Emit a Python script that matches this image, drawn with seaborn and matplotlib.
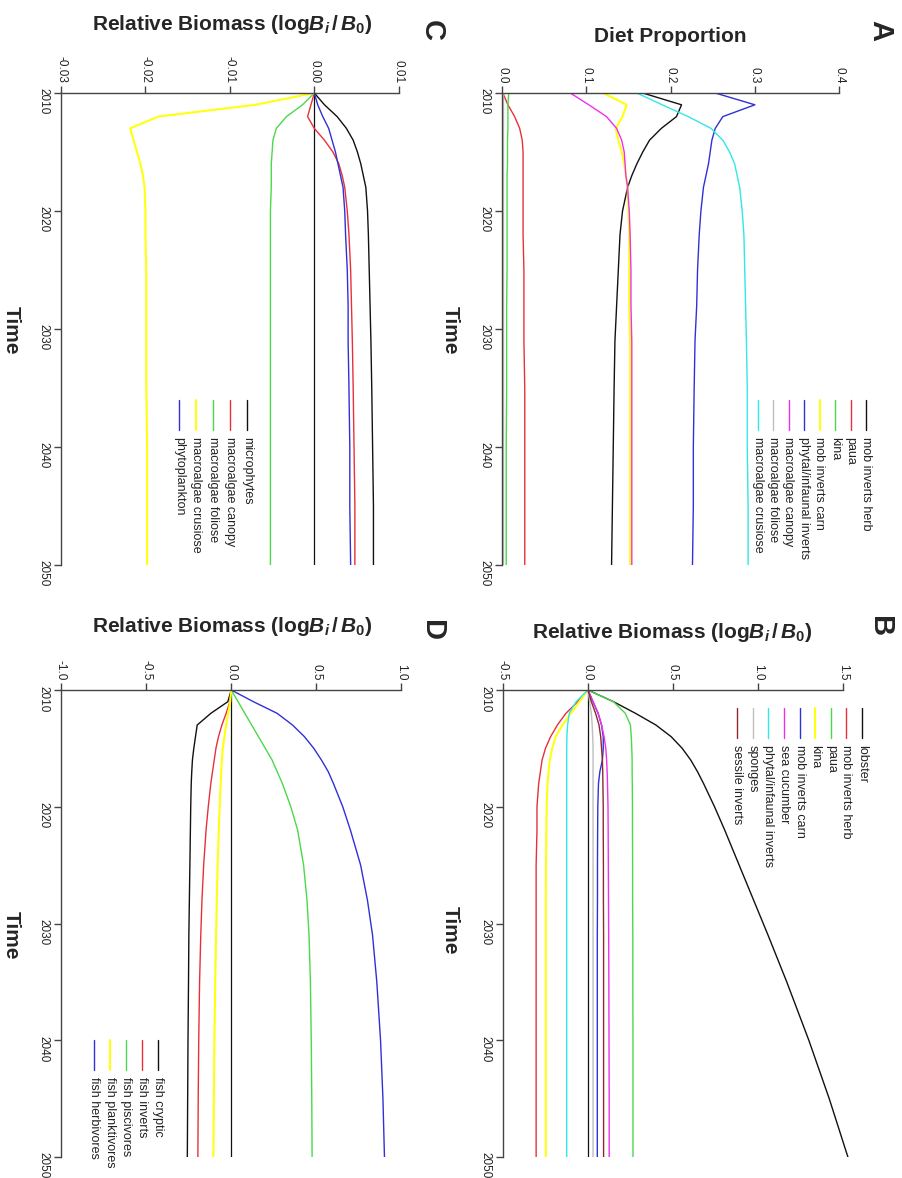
import numpy as np
import pandas as pd
import matplotlib
matplotlib.use("Agg")
import matplotlib.pyplot as plt
import seaborn as sns
from matplotlib.lines import Line2D

# ---------------- data ----------------
YEARS = [2010, 2011, 2012, 2013, 2014, 2015, 2016, 2017, 2018, 2020,
         2022, 2025, 2028, 2031, 2035, 2040, 2045, 2050]

# Panel A: diet proportion
A_names = ["mob inverts herb", "paua", "kina", "mob inverts carn",
           "phytal/infaunal inverts", "macroalgae canopy", "macroalgae foliose",
           "macroalgae crusiose"]
A_mob_herb = [0.167, 0.213, 0.207, 0.189, 0.175, 0.167, 0.160, 0.154, 0.149, 0.143,
              0.140, 0.138, 0.136, 0.134, 0.133, 0.132, 0.131, 0.130]
A_paua = [0.001, 0.007, 0.015, 0.021, 0.024, 0.025, 0.025, 0.025, 0.025, 0.025,
          0.025, 0.026, 0.026, 0.026, 0.027, 0.027, 0.027, 0.027]
A_kina = [0.008, 0.007, 0.007, 0.007, 0.0065, 0.0065, 0.0065, 0.006, 0.006, 0.006,
          0.006, 0.006, 0.0055, 0.0055, 0.0055, 0.005, 0.005, 0.005]
A_mob_carn = [0.120, 0.148, 0.143, 0.135, 0.138, 0.142, 0.145, 0.147, 0.149, 0.150,
              0.151, 0.151, 0.151, 0.152, 0.152, 0.152, 0.152, 0.152]
A_phytal = [0.253, 0.300, 0.262, 0.253, 0.249, 0.247, 0.245, 0.242, 0.239, 0.236,
            0.234, 0.232, 0.231, 0.229, 0.228, 0.227, 0.227, 0.226]
A_canopy = [0.081, 0.103, 0.124, 0.136, 0.142, 0.145, 0.146, 0.147, 0.149, 0.151,
            0.152, 0.153, 0.153, 0.154, 0.154, 0.154, 0.154, 0.154]
A_foliose = [0.001, 0.001, 0.001, 0.001, 0.001, 0.001, 0.001, 0.001, 0.001, 0.001,
             0.001, 0.001, 0.001, 0.001, 0.001, 0.001, 0.001, 0.001]
A_crusiose = [0.160, 0.190, 0.221, 0.248, 0.262, 0.270, 0.276, 0.279, 0.282, 0.285,
              0.287, 0.288, 0.289, 0.290, 0.291, 0.291, 0.292, 0.292]

# Panel B: relative biomass (invertebrates)
B_names = ["lobster", "mob inverts herb", "paua", "kina", "mob inverts carn",
           "sea cucumber", "phytal/infaunal inverts", "sponges", "sessile inverts"]
B_lobster = [0, 0.15, 0.28, 0.40, 0.49, 0.555, 0.605, 0.645, 0.68, 0.745,
             0.805, 0.89, 0.975, 1.06, 1.17, 1.30, 1.42, 1.53]
B_mob_herb = [0, -0.06, -0.13, -0.18, -0.22, -0.25, -0.27, -0.28, -0.29, -0.30,
              -0.30, -0.305, -0.305, -0.305, -0.305, -0.305, -0.305, -0.305]
B_paua = [0, 0.15, 0.22, 0.25, 0.255, 0.258, 0.26, 0.26, 0.261, 0.262,
          0.262, 0.263, 0.263, 0.264, 0.264, 0.265, 0.265, 0.265]
B_kina = [0, -0.05, -0.10, -0.15, -0.19, -0.21, -0.225, -0.232, -0.238, -0.243,
          -0.245, -0.247, -0.248, -0.248, -0.248, -0.248, -0.248, -0.248]
B_mob_carn = [0, 0.03, 0.06, 0.08, 0.09, 0.09, 0.085, 0.07, 0.062, 0.058,
              0.057, 0.056, 0.056, 0.055, 0.055, 0.055, 0.055, 0.055]
B_sea_cuc = [0, 0.03, 0.06, 0.08, 0.095, 0.105, 0.11, 0.113, 0.115, 0.118,
             0.119, 0.12, 0.121, 0.122, 0.123, 0.124, 0.125, 0.125]
B_phytal = [0, -0.07, -0.11, -0.12, -0.124, -0.125, -0.125, -0.125, -0.125, -0.125,
            -0.125, -0.125, -0.125, -0.125, -0.125, -0.125, -0.125, -0.125]
B_sponges = [0, 0.01, 0.02, 0.025, 0.028, 0.03, 0.03, 0.03, 0.03, 0.03,
             0.03, 0.03, 0.03, 0.03, 0.03, 0.03, 0.03, 0.03]
B_sessile = [0, 0.02, 0.045, 0.065, 0.075, 0.08, 0.085, 0.087, 0.088, 0.09,
             0.09, 0.091, 0.091, 0.092, 0.092, 0.092, 0.092, 0.092]

# Panel C: relative biomass (primary producers)
C_names = ["microphytes", "macroalgae canopy", "macroalgae foliose",
           "macroalgae crusiose", "phytoplankton"]
C_micro = [0, 0.0012, 0.0027, 0.0038, 0.0046, 0.0051, 0.0055, 0.0058, 0.0061, 0.0063,
           0.0064, 0.0065, 0.0066, 0.0067, 0.0068, 0.0069, 0.0070, 0.0070]
C_canopy = [0, -0.0004, -0.0008, 0.0000, 0.0012, 0.0022, 0.0029, 0.0033, 0.0036, 0.0039,
            0.0041, 0.0043, 0.0044, 0.0045, 0.0046, 0.0047, 0.0048, 0.0048]
C_foliose = [0, -0.0014, -0.0033, -0.0045, -0.0049, -0.0050, -0.0051, -0.0051, -0.0051,
             -0.0052, -0.0052, -0.0052, -0.0052, -0.0052, -0.0052, -0.0052, -0.0052, -0.0052]
C_crusiose = [0, -0.007, -0.0185, -0.0218, -0.0214, -0.0210, -0.0206, -0.0203, -0.0201,
              -0.0200, -0.0200, -0.0199, -0.0199, -0.0199, -0.0199, -0.0198, -0.0198, -0.0198]
C_phyto = [0, 0.0004, 0.0010, 0.0017, 0.0021, 0.0025, 0.0028, 0.0031, 0.0034, 0.0036,
           0.0037, 0.0039, 0.0040, 0.0040, 0.0041, 0.0042, 0.0042, 0.0043]

# Panel D: relative biomass (fish)
D_names = ["fish cryptic", "fish inverts", "fish piscivores", "fish planktivores",
           "fish herbivores"]
D_cryptic = [0, -0.02, -0.12, -0.20, -0.21, -0.22, -0.228, -0.232, -0.235, -0.238,
             -0.240, -0.243, -0.246, -0.249, -0.251, -0.254, -0.256, -0.258]
D_inverts = [0, -0.008, -0.03, -0.055, -0.075, -0.09, -0.10, -0.11, -0.12, -0.135,
             -0.148, -0.162, -0.172, -0.179, -0.186, -0.191, -0.194, -0.196]
D_pisc = [0, 0.04, 0.08, 0.12, 0.16, 0.20, 0.24, 0.27, 0.30, 0.35,
          0.39, 0.425, 0.445, 0.457, 0.465, 0.470, 0.473, 0.475]
D_plank = [0, -0.006, -0.018, -0.03, -0.04, -0.05, -0.055, -0.059, -0.062, -0.068,
           -0.073, -0.08, -0.085, -0.089, -0.094, -0.099, -0.102, -0.105]
D_herb = [0, 0.13, 0.27, 0.36, 0.43, 0.485, 0.53, 0.57, 0.60, 0.655,
          0.70, 0.76, 0.80, 0.83, 0.855, 0.877, 0.891, 0.90]

TIME_TICKS = [2010, 2020, 2030, 2040, 2050]
A_ticks = [0.0, 0.1, 0.2, 0.3, 0.4]
A_ticklabels = ["0.0", "0.1", "0.2", "0.3", "0.4"]
B_ticks = [-0.5, 0.0, 0.5, 1.0, 1.5]
B_ticklabels = ["-0.5", "0.0", "0.5", "1.0", "1.5"]
C_ticks = [-0.03, -0.02, -0.01, 0.0, 0.01]
C_ticklabels = ["-0.03", "-0.02", "-0.01", "0.00", "0.01"]
D_ticks = [-1.0, -0.5, 0.0, 0.5, 1.0]
D_ticklabels = ["-1.0", "-0.5", "0.0", "0.5", "1.0"]

# ---------------- style ----------------
BLACK = "#111111"
RED = "#E8303A"
GREEN = "#4CD84C"
YELLOW = "#FFFF10"
BLUE = "#3030D8"
MAGENTA = "#EE30EE"
CYAN = "#30E8E8"
GRAY = "#BEBEBE"
BROWN = "#8B2A2A"

A_colors = [BLACK, RED, GREEN, YELLOW, BLUE, MAGENTA, GRAY, CYAN]
B_colors = [BLACK, RED, GREEN, YELLOW, BLUE, MAGENTA, CYAN, GRAY, BROWN]
C_colors = [BLACK, RED, GREEN, YELLOW, BLUE]
D_colors = [BLACK, RED, GREEN, YELLOW, BLUE]

sns.set_style("ticks")
plt.rcParams['font.family'] = ['Liberation Sans', 'DejaVu Sans']
plt.rcParams['mathtext.fontset'] = 'custom'
plt.rcParams['mathtext.rm'] = 'Liberation Sans:bold'
plt.rcParams['mathtext.it'] = 'Liberation Sans:bold:italic'
plt.rcParams['mathtext.bf'] = 'Liberation Sans:bold'

W, H = 902, 1178
fig = plt.figure(figsize=(W / 100, H / 100), dpi=100)
AX_COLOR = "#444444"


def fx(px):
    return px / W


def fy(py):
    return 1 - py / H


def make_axes(left, right, top, bottom):
    return fig.add_axes([fx(left), fy(bottom), (right - left) / W, (bottom - top) / H])


def draw_panel(ax, series, colors, xlo, xhi, ticks, ticklabels, zero_line):
    if zero_line:
        ax.axvline(0, color=BLACK, lw=0.9, zorder=1)
    for vals, c in zip(series, colors):
        lw = 1.5 if c == YELLOW else 1.0
        sns.lineplot(x=vals, y=YEARS, orient="y", estimator=None, color=c,
                     linewidth=lw, ax=ax, zorder=2)
    ax.set_xlim(xlo, xhi)
    ax.set_ylim(2050, 2010)
    ax.set_xticks(ticks)
    ax.set_xticklabels(ticklabels)
    ax.set_yticks(TIME_TICKS)
    ax.set_yticklabels([str(t) for t in TIME_TICKS])
    ax.set_xlabel("")
    ax.set_ylabel("")
    ax.patch.set_alpha(0)
    ax.spines['right'].set_visible(False)
    ax.spines['bottom'].set_visible(False)
    ax.spines['top'].set_visible(True)
    ax.spines['top'].set_bounds(ticks[0], ticks[-1])
    ax.spines['left'].set_bounds(2010, 2050)
    for s in ('top', 'left'):
        ax.spines[s].set_color(AX_COLOR)
        ax.spines[s].set_linewidth(1.0)
    ax.tick_params(axis='x', top=True, labeltop=True, bottom=False, labelbottom=False,
                   labelrotation=-90, length=5, width=1.0, pad=2, labelsize=8.5,
                   color=AX_COLOR, labelcolor="#222222")
    ax.tick_params(axis='y', left=True, labelleft=True, labelrotation=-90,
                   length=5, width=1.0, pad=3, labelsize=8.5,
                   color=AX_COLOR, labelcolor="#222222")


def draw_legend(names, colors, x0, dx, y_top, line_len=30, gap=7):
    for i, (n, c) in enumerate(zip(names, colors)):
        x = x0 - i * dx
        lw = 1.5 if c == YELLOW else 1.0
        fig.add_artist(Line2D([fx(x), fx(x)], [fy(y_top), fy(y_top + line_len)],
                              color=c, lw=lw, transform=fig.transFigure))
        fig.text(fx(x), fy(y_top + line_len + gap), n, rotation=-90, ha='center',
                 va='top', fontsize=9, color="#222222")


# Panel A
axA = make_axes(502, 856, 93, 565)
draw_panel(axA, [A_mob_herb, A_paua, A_kina, A_mob_carn, A_phytal, A_canopy,
                 A_foliose, A_crusiose], A_colors, 0.0, 0.42, A_ticks, A_ticklabels, False)
draw_legend(A_names, A_colors, 866, 15.5, 400)

# Panel C
axC = make_axes(61, 403, 93, 565)
draw_panel(axC, [C_micro, C_canopy, C_foliose, C_crusiose, C_phyto], C_colors,
           -0.03, 0.0105, C_ticks, C_ticklabels, True)
draw_legend(C_names, C_colors, 247, 17, 400)

# Panel B
axB = make_axes(503, 853, 690, 1157)
draw_panel(axB, [B_lobster, B_mob_herb, B_paua, B_kina, B_mob_carn, B_sea_cuc,
                 B_phytal, B_sponges, B_sessile], B_colors, -0.5, 1.56,
           B_ticks, B_ticklabels, True)
draw_legend(B_names, B_colors, 862, 15.6, 708)

# Panel D
axD = make_axes(61, 410, 690, 1157)
draw_panel(axD, [D_cryptic, D_inverts, D_pisc, D_plank, D_herb], D_colors,
           -1.0, 1.05, D_ticks, D_ticklabels, True)
draw_legend(D_names, D_colors, 158, 16, 1040)

# Axis titles
RB = r"Relative Biomass (log$B_i\,/\,B_0$)"
fig.text(fx(670), fy(37), "Diet Proportion", ha='center', va='center',
         fontsize=15, fontweight='bold')
fig.text(fx(232), fy(25), RB, ha='center', va='center', fontsize=15, fontweight='bold')
fig.text(fx(672), fy(633), RB, ha='center', va='center', fontsize=15, fontweight='bold')
fig.text(fx(232), fy(627), RB, ha='center', va='center', fontsize=15, fontweight='bold')
for (x, y) in [(450, 330), (11, 330), (450, 930), (11, 935)]:
    fig.text(fx(x), fy(y), "Time", rotation=-90, ha='center', va='center',
             fontsize=15, fontweight='bold')

# Panel letters
for lab, (x, y) in {"A": (880, 30), "C": (432, 30), "B": (880, 627),
                    "D": (432, 630)}.items():
    fig.text(fx(x), fy(y), lab, rotation=-90, ha='center', va='center',
             fontsize=21, fontweight='bold')

fig.savefig("out.png", dpi=100, facecolor="white")
